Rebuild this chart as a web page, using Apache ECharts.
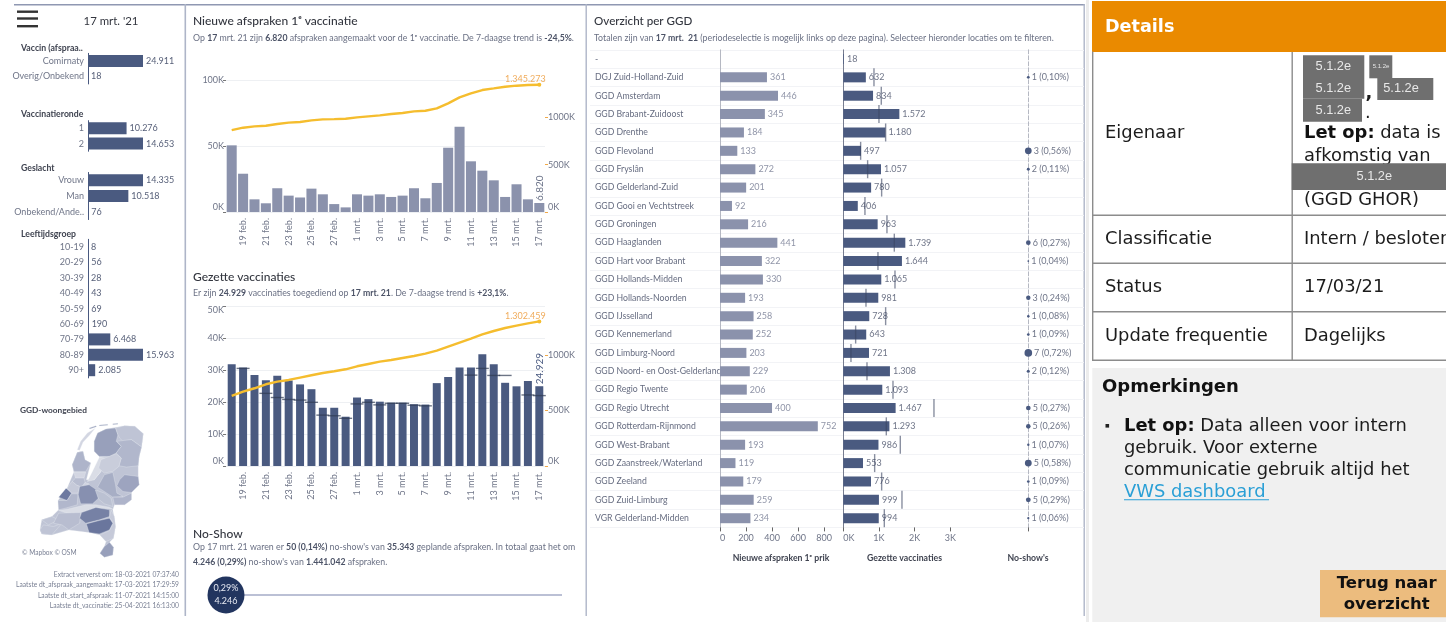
<!DOCTYPE html>
<html><head><meta charset="utf-8">
<style>html,body{margin:0;padding:0;background:#fff;overflow:hidden}
#a{position:absolute;left:0;top:0;width:1086px;height:622px;filter:blur(.45px)}
#b{position:absolute;left:1086px;top:0;width:360px;height:622px;filter:blur(.25px)}</style>
<script src="https://cdn.jsdelivr.net/npm/echarts@6/dist/echarts.min.js"></script>
</head><body><div id="a"></div><div id="b"></div>
<script>
const vaccinCats=['Comirnaty','Overig/Onbekend'];
const vaccinVals=[24911,18];
const rondeCats=['1','2'];
const rondeVals=[10276,14653];
const geslachtCats=['Vrouw','Man','Onbekend/Ande..'];
const geslachtVals=[14335,10518,76];
const leeftijdCats=['10-19','20-29','30-39','40-49','50-59','60-69','70-79','80-89','90+'];
const leeftijdVals=[8,56,28,43,69,190,6468,15963,2085];

const dates=['18 feb.','19 feb.','20 feb.','21 feb.','22 feb.','23 feb.','24 feb.','25 feb.','26 feb.','27 feb.','28 feb.','1 mrt.','2 mrt.','3 mrt.','4 mrt.','5 mrt.','6 mrt.','7 mrt.','8 mrt.','9 mrt.','10 mrt.','11 mrt.','12 mrt.','13 mrt.','14 mrt.','15 mrt.','16 mrt.','17 mrt.'];
const newAppointments=[50500,29000,9600,6600,18000,12400,11000,17700,13400,6000,3500,13400,12400,13400,11400,12400,18000,10400,22000,48700,64600,38400,31300,24000,11400,21000,9600,6820];
const cumAppointments=[866000,891000,905000,912000,930000,944000,951000,968000,979000,982000,986000,1000000,1011000,1021000,1035000,1046000,1063000,1070000,1095000,1148000,1211000,1254000,1289000,1306000,1324000,1335000,1342000,1345273];
const vaccinations=[31800,30800,28400,26800,28200,26700,25500,24000,18200,18200,15400,21400,20900,20100,19800,19800,19300,19200,25900,27800,30800,30800,34900,31800,26000,24900,26600,24929];
const vaccinationsRef=[null,30500,null,22700,21400,20800,20600,19900,15900,15700,14900,19400,19900,19100,19600,19600,19000,18800,null,null,null,28400,30500,28300,28300,null,22200,22000];
const cumVaccinations=[631000,670000,700000,736000,760000,775000,796000,817000,838000,853000,871000,898000,919000,940000,955000,973000,991000,1012000,1039000,1075000,1111000,1147000,1186000,1216000,1243000,1264000,1285000,1302459];

const ggdNames=['-','DGJ Zuid-Holland-Zuid','GGD Amsterdam','GGD Brabant-Zuidoost','GGD Drenthe','GGD Flevoland','GGD Fryslân','GGD Gelderland-Zuid','GGD Gooi en Vechtstreek','GGD Groningen','GGD Haaglanden','GGD Hart voor Brabant','GGD Hollands-Midden','GGD Hollands-Noorden','GGD IJsselland','GGD Kennemerland','GGD Limburg-Noord','GGD Noord- en Oost-Gelderland','GGD Regio Twente','GGD Regio Utrecht','GGD Rotterdam-Rijnmond','GGD West-Brabant','GGD Zaanstreek/Waterland','GGD Zeeland','GGD Zuid-Limburg','VGR Gelderland-Midden'];
const ggdAppointments=[null,361,446,345,184,133,272,201,92,216,441,322,330,193,258,252,203,229,206,400,752,193,119,179,259,234];
const ggdVaccinations=[18,632,834,1572,1180,497,1057,780,406,963,1739,1644,1065,981,728,643,721,1308,1093,1467,1293,986,553,776,999,994];
const ggdVaccinationsRef=[null,860,1065,1000,1187,486,682,1075,607,1224,1430,972,1449,636,1187,346,215,664,1393,2542,1206,1598,879,1075,1645,1150];
const ggdNoShow=[null,1,null,null,null,3,2,null,null,null,6,1,null,3,1,1,7,2,null,5,5,1,5,1,5,1];
const ggdNoShowPct=[null,0.10,null,null,null,0.56,0.11,null,null,null,0.27,0.04,null,0.24,0.08,0.09,0.72,0.12,null,0.27,0.26,0.07,0.58,0.09,0.29,0.06];

const noShowPct=0.29, noShowCount=4246;

const regionNames=['Land','Fryslân','Groningen','Drenthe','Noord-Holland','Zaanstreek','Amsterdam','Flevoland','Gooi','Hollands-Midden','Haaglanden','Rotterdam','Utrecht','IJsselland','Noord-Oost-Gelderland','Twente','Midden','Zuid','Achterhoek','Zeeland','West-Brabant','Hart voor Brabant','Brabant-Zuidoost','Limburg-Noord','Zuid-Limburg','Waddenkust'];
const regionShade=[22,45,22,30,32,10,26,6,12,18,70,30,55,16,36,42,24,6,32,22,26,65,72,18,45,10];
const regionRings=[
 [[[255,95],[265,70],[290,58],[345,48],[375,50],[400,72],[395,112],[388,140],[385,168],[385,200],[388,225],[365,248],[365,270],[345,285],[315,285],[310,300],[318,350],[312,385],[300,397],[312,412],[310,435],[285,442],[272,430],[285,410],[290,395],[272,375],[240,368],[180,360],[130,375],[100,372],[95,360],[100,330],[130,320],[150,300],[148,272],[175,235],[195,187],[190,165],[205,128],[222,125],[228,150],[245,160],[232,210],[255,210],[275,185],[270,143],[300,140],[270,140],[255,125]]],
 [[[255,95],[265,70],[290,58],[318,55],[325,75],[320,95],[335,110],[320,130],[300,140],[270,140],[255,125]],[[240,55],[260,48],[262,51],[242,58]],[[270,46],[295,44],[295,47],[270,49]],[[310,42],[325,41],[325,44],[310,45]]],
 [[[318,55],[345,48],[375,50],[400,72],[395,112],[365,90],[340,95],[330,85],[325,75]]],
 [[[322,95],[345,92],[365,90],[395,112],[388,140],[385,168],[350,172],[328,168],[335,145],[320,130],[335,110]]],
 [[[205,128],[222,125],[228,150],[245,160],[230,185],[195,185],[190,165]]],
 [[[195,187],[230,187],[225,205],[200,205]]],
 [[[200,205],[225,205],[228,218],[218,232],[203,226],[190,215]]],
 [[[270,143],[295,145],[275,185],[255,210],[235,215],[250,185]]],
 [[[228,218],[240,222],[235,238],[218,235]]],
 [[[175,235],[190,215],[203,226],[212,230],[207,250],[188,250]]],
 [[[150,262],[172,235],[188,250],[175,272]]],
 [[[148,272],[175,272],[188,252],[207,252],[205,285],[170,295],[150,300]]],
 [[[212,230],[240,225],[262,240],[268,265],[250,282],[215,282],[208,255]]],
 [[[275,150],[320,132],[335,145],[328,170],[310,185],[285,190],[268,175]]],
 [[[265,232],[285,195],[310,188],[318,225],[322,250],[340,260],[310,262],[285,245]]],
 [[[330,210],[345,195],[385,200],[388,225],[365,248],[340,245],[322,228]]],
 [[[258,240],[285,250],[305,265],[310,290],[285,282],[268,268]]],
 [[[150,302],[175,298],[230,285],[260,285],[300,292],[310,298],[285,295],[240,300],[215,308],[190,315]]],
 [[[310,262],[340,262],[365,250],[365,270],[345,285],[315,285]]],
 [[[95,360],[105,345],[135,350],[160,340],[130,375],[100,372]],[[100,330],[130,320],[150,330],[120,345]]],
 [[[150,310],[215,308],[212,340],[180,360],[160,345],[135,340]]],
 [[[218,308],[260,293],[300,300],[300,320],[270,330],[230,340],[212,325]]],
 [[[232,342],[270,332],[300,325],[310,340],[300,360],[270,372],[240,368]]],
 [[[305,300],[315,320],[318,350],[312,385],[290,395],[272,375],[300,362],[312,340],[300,322]]],
 [[[285,410],[300,397],[312,412],[310,435],[285,442],[272,430]]],
 [[[205,120],[215,95],[235,70],[258,56],[240,78],[222,98],[212,122]]]
];

const DASH='Lato, sans-serif';
const VERD='"DejaVu Sans", sans-serif';
const LF=9;
const BAR_DARK='#4a5a80', BAR_LIGHT='#8b92ac', GREY='#6f7588', ORANGE='#f5bd2e';
const fmt=n=>String(n).replace(/\B(?=(\d{3})+(?!\d))/g,'.');
const kFmt=v=>(v/1000)+'K';

const grids=[],xAxes=[],yAxes=[],series=[];
function addGrid(g,x,y){grids.push(g);const i=grids.length-1;xAxes.push(Object.assign({gridIndex:i},x));yAxes.push(Object.assign({gridIndex:i},y));return {x:xAxes.length-1,y:yAxes.length-1};}

function sideBars(cats,vals,centerFirst,pitch){
  const i=addGrid({left:88,top:centerFirst-pitch/2,width:55,height:pitch*cats.length},
   {type:'value',min:0,max:Math.max(...vals),show:false},
   {type:'category',inverse:true,data:cats,axisTick:{show:false},axisLine:{lineStyle:{color:BAR_DARK,width:1}},
    axisLabel:{color:GREY,fontSize:LF,fontFamily:DASH,margin:4,interval:0}});
  series.push({type:'bar',xAxisIndex:i.x,yAxisIndex:i.y,data:vals,barWidth:12,itemStyle:{color:BAR_DARK},silent:true,
    label:{show:true,position:'right',distance:3,color:'#565f78',fontSize:LF,fontFamily:DASH,formatter:p=>fmt(p.value)}});
}
sideBars(vaccinCats,vaccinVals,61,15.3);
sideBars(rondeCats,rondeVals,128.3,15.3);
sideBars(geslachtCats,geslachtVals,180.3,15.7);
sideBars(leeftijdCats,leeftijdVals,247,15.4);

function combo(top,height,leftMax,leftInt,rightMax,bars,barCol,gap,line,endText,lastText,lastCol,isTopAligned){
  const lv=[];for(let v=0;v<=rightMax;v+=500000)lv.push(v);
  const i=grids.length;
  grids.push({left:226,top:top,width:319,height:height});
  xAxes.push({gridIndex:i,type:'category',data:dates,axisLine:{show:false},axisTick:{show:false},
    axisLabel:{rotate:90,interval:k=>k%2===1,color:GREY,fontSize:LF,fontFamily:DASH,margin:6,hideOverlap:false}});
  const leftLabel={color:GREY,fontSize:LF,fontFamily:DASH,margin:2,formatter:kFmt,verticalAlignMinLabel:'bottom'};
  if(isTopAligned)leftLabel.verticalAlignMaxLabel='top';
  yAxes.push({gridIndex:i,type:'value',min:0,max:leftMax,interval:leftInt,
    axisLine:{show:false},axisTick:{show:true,length:3,lineStyle:{color:'#777'}},
    splitLine:{show:true,lineStyle:{color:'#eef0f3',width:1}},
    axisLabel:leftLabel});
  yAxes.push({gridIndex:i,type:'value',position:'right',min:0,max:rightMax,
    axisLine:{show:false},splitLine:{show:false},
    axisTick:{show:true,length:3,customValues:lv,lineStyle:{color:'#f0a94a'}},
    axisLabel:{customValues:lv,color:GREY,fontSize:LF,fontFamily:DASH,margin:3,formatter:kFmt,verticalAlignMinLabel:'bottom'}});
  const yL=yAxes.length-2,yR=yAxes.length-1,xI=xAxes.length-1;
  series.push({type:'bar',xAxisIndex:xI,yAxisIndex:yL,barCategoryGap:gap,itemStyle:{color:barCol},silent:true,
    data:bars.map((v,k)=>k===bars.length-1?{value:v,label:{show:true,position:'top',rotate:90,align:'left',verticalAlign:'middle',distance:2,formatter:lastText,color:lastCol,fontSize:10,fontFamily:DASH}}:v)});
  series.push({type:'line',xAxisIndex:xI,yAxisIndex:yR,showSymbol:true,showAllSymbol:true,symbol:'circle',symbolSize:0,lineStyle:{color:ORANGE,width:2.4},itemStyle:{color:ORANGE},z:5,silent:true,
    data:line.map((v,k)=>k===line.length-1?{value:v,symbolSize:4,label:{show:true,position:'top',distance:0,offset:[-14,1],color:'#f0ac5c',fontSize:LF,fontFamily:DASH,formatter:endText}}:v)});
  return {xI,yL};
}
combo(80,132,100000,50000,1395000,newAppointments,BAR_LIGHT,'12%',cumAppointments,'1.345.273','6.820','#6a7288',false);
const c2=combo(306,160,50000,10000,1441000,vaccinations,BAR_DARK,'30%',cumVaccinations,'1.302.459','24.929','#4a5a80',true);
series.push({type:'scatter',xAxisIndex:c2.xI,yAxisIndex:c2.yL,symbol:'rect',symbolSize:[13,1.4],itemStyle:{color:'#2f3a52',opacity:.7},z:6,silent:true,data:vaccinationsRef});

// no-show strip
{
 const i=addGrid({left:225,top:585,width:337,height:20},{type:'value',min:0,max:100,show:false},{type:'category',data:['No-show'],show:false});
 series.push({type:'bar',xAxisIndex:i.x,yAxisIndex:i.y,data:[100],barWidth:1.6,itemStyle:{color:'#a4abc7'},silent:true});
 series.push({type:'scatter',xAxisIndex:i.x,yAxisIndex:i.y,symbolSize:37,itemStyle:{color:'#22355f',opacity:1},z:5,silent:true,data:[[noShowPct,0]],
  label:{show:true,position:'inside',color:'#e6e9f2',fontSize:LF,fontFamily:DASH,lineHeight:13,formatter:'0,29%\n'+fmt(noShowCount)}});
}

// GGD table
const rowTop=49.8,rowH=477.6;
const catY=(extra)=>Object.assign({type:'category',inverse:true,data:ggdNames,axisTick:{show:false},axisLabel:{show:false}},extra);
{
 addGrid({left:590,top:rowTop,width:494,height:rowH},{type:'value',show:false},
   catY({axisLine:{show:false},splitLine:{show:true,interval:0,lineStyle:{color:'#f2f3f6',width:1}}}));
 const t={show:true,length:4,lineStyle:{color:'#666'}};
 const lab={color:GREY,fontSize:LF,fontFamily:DASH,margin:6};
 const a=addGrid({left:720,top:rowTop,width:123.3,height:rowH},
   {type:'value',min:0,max:948,axisLine:{show:false},splitLine:{show:false},axisTick:Object.assign({customValues:[0,200,400,600,800]},t),axisLabel:Object.assign({customValues:[0,200,400,600,800],alignMinLabel:'left'},lab)},
   catY({axisLine:{show:true,lineStyle:{color:'#b5b8c2'}},axisLabel:{show:true,align:'left',margin:125,interval:0,color:'#666c80',fontSize:8.7,fontFamily:DASH}}));
 series.push({type:'bar',xAxisIndex:a.x,yAxisIndex:a.y,data:ggdAppointments,barWidth:10,itemStyle:{color:BAR_LIGHT},silent:true,
   label:{show:true,position:'right',distance:3,color:'#9095a8',fontSize:LF,fontFamily:DASH}});
 const b=addGrid({left:843.3,top:rowTop,width:185,height:rowH},
   {type:'value',min:0,max:5187,axisLine:{show:false},splitLine:{show:false},axisTick:Object.assign({customValues:[0,1000,2000,3000]},t),axisLabel:Object.assign({customValues:[0,1000,2000,3000],alignMinLabel:'left',formatter:kFmt},lab)},
   catY({axisLine:{show:true,lineStyle:{color:'#777d90'}}}));
 series.push({type:'bar',xAxisIndex:b.x,yAxisIndex:b.y,data:ggdVaccinations,barWidth:10,itemStyle:{color:BAR_DARK},silent:true,
   label:{show:true,position:'right',distance:3,color:'#6f7588',fontSize:LF,fontFamily:DASH,formatter:p=>fmt(p.value)}});
 series.push({type:'scatter',xAxisIndex:b.x,yAxisIndex:b.y,symbol:'rect',symbolSize:[1.4,18],itemStyle:{color:'#3b4560',opacity:.6},z:6,silent:true,
   data:ggdVaccinationsRef.map((v,k)=>v==null?[null,k]:[v,k])});
 const c=addGrid({left:1028.3,top:rowTop,width:55,height:rowH},
   {type:'value',min:0,max:1,axisLine:{show:false},splitLine:{show:false},axisTick:Object.assign({customValues:[0]},t),axisLabel:{show:false}},
   catY({axisLine:{show:true,lineStyle:{color:'#b5b8c2',type:'dashed'}}}));
 series.push({type:'scatter',xAxisIndex:c.x,yAxisIndex:c.y,itemStyle:{color:BAR_DARK,opacity:1},silent:true,clip:false,
   data:ggdNoShow.map((n,k)=>n==null?[null,k,null,null]:[0,k,n,ggdNoShowPct[k]]),
   symbolSize:d=>d[3]?9*Math.sqrt(d[3]):0,
   label:{show:true,position:'right',distance:2,color:'#6f7588',fontSize:LF,fontFamily:DASH,
     formatter:p=>p.data[2]==null?'':p.data[2]+' ('+p.data[3].toFixed(2).replace('.',',')+'%)'}});
}

// map
const geo={type:'FeatureCollection',features:regionNames.map((n,i)=>({type:'Feature',properties:{name:n},
  geometry:{type:'MultiPolygon',coordinates:regionRings[i].map(r=>[r.map(p=>[p[0],-p[1]])])}}))};
echarts.registerMap('ggd',geo);
series.push({type:'map',map:'ggd',left:40,top:423.3,width:103.3,height:134,aspectScale:1,roam:false,silent:true,
  label:{show:false},itemStyle:{borderColor:'#eef0f4',borderWidth:.3},
  data:regionNames.map((n,i)=>({name:n,value:regionShade[i]}))});

const T=(x,y,text,o)=>({type:'text',silent:true,style:Object.assign({x,y,text,fill:'#7a8094',fontSize:LF,fontFamily:DASH,verticalAlign:'middle',align:'left'},o||{})});
const R=(x,y,w,h,fill)=>({type:'rect',silent:true,shape:{x,y,width:w,height:h},style:{fill}});
const b={fontWeight:'bold',fill:'#4c5367',fontFamily:DASH,fontSize:8.7,verticalAlign:'middle'};
const r={fill:'#6a7084',fontFamily:DASH,fontSize:8.8,verticalAlign:'middle'};
const rich={b,r};
const sub=(x,y,text)=>T(x,y,text,{rich});
const TITLE={fill:'#33363f',fontSize:12,fontFamily:DASH,fontWeight:500};
const SEC={fill:'#3f4350',fontSize:8.7,fontWeight:'bold'};
const FOOT={align:'right',fontSize:6.7};
const LINE='#aeb5c8';
const gA=[
 R(14,4,1071,1.4,'#8f98b2'),R(184.5,4,1.6,612,LINE),R(585.5,4,1.4,612,LINE),R(1083.5,4,1.4,612,LINE),
 R(17,10.5,21,2.4,'#333'),R(17,17.3,21,2.4,'#333'),R(17,25,21,2.4,'#333'),
 T(111,21,"17 mrt. '21",{fill:'#33363f',fontSize:11.4,align:'center'}),
 T(21,48,'Vaccin (afspraa..',SEC),T(21,114,'Vaccinatieronde',SEC),T(21,168,'Geslacht',SEC),T(21,234,'Leeftijdsgroep',SEC),
 T(20,410,'GGD-woongebied',Object.assign({},SEC,{fontSize:8.3})),
 T(22,553,'© Mapbox © OSM',{fontSize:6.6}),
 T(179,575,'Extract ververst om: 18-03-2021 07:37:40',FOOT),
 T(179,585.3,'Laatste dt_afspraak_aangemaakt: 17-03-2021 17:29:59',FOOT),
 T(179,595.6,'Laatste dt_start_afspraak: 11-07-2021 14:15:00',FOOT),
 T(179,605.8,'Laatste dt_vaccinatie: 25-04-2021 16:13:00',FOOT),
 T(193,21,'Nieuwe afspraken 1ᵉ vaccinatie',TITLE),
 sub(193,38,'{r|Op }{b|17}{r| mrt. 21 zijn }{b|6.820}{r| afspraken aangemaakt voor de 1ᵉ vaccinatie. De 7-daagse trend is }{b|-24,5%}{r|.}'),
 T(193,277,'Gezette vaccinaties',TITLE),
 sub(193,293.5,'{r|Er zijn }{b|24.929}{r| vaccinaties toegediend op }{b|17 mrt. 21}{r|. De 7-daagse trend is }{b|+23,1%}{r|.}'),
 T(193,534,'No-Show',TITLE),
 sub(193,547,'{r|Op 17 mrt. 21 waren er }{b|50 (0,14%)}{r| no-show\'s van }{b|35.343}{r| geplande afspraken. In totaal gaat het om}'),
 sub(193,562,'{b|4.246 (0,29%)}{r| no-show\'s van }{b|1.441.042}{r| afspraken.}'),
 T(594,21,'Overzicht per GGD',Object.assign({},TITLE,{fontSize:11.6})),
 sub(594,38,'{r|Totalen zijn van }{b|17 mrt.  21}{r| (periodeselectie is mogelijk links op deze pagina). Selecteer hieronder locaties om te filteren.}'),
 T(781,558.5,'Nieuwe afspraken 1ᵉ prik',Object.assign({},SEC,{align:'center'})),
 T(904.5,558.5,'Gezette vaccinaties',Object.assign({},SEC,{align:'center'})),
 T(1028,558.5,"No-show's",Object.assign({},SEC,{align:'center'})),
];

const chartA=echarts.init(document.getElementById('a'));
chartA.setOption({animation:false,backgroundColor:'#fff',grid:grids,xAxis:xAxes,yAxis:yAxes,series,
  visualMap:{show:false,min:0,max:75,seriesIndex:series.length-1,inRange:{color:['#e4e6ed','#65719a']}},
  graphic:{elements:gA}});

// details panel
const OX=1086;
const FS=17.9;
const V=(x,y,text,o)=>T(x-OX,y+1,text,Object.assign({fill:'#1c1c1c',fontSize:FS,fontFamily:VERD},o||{}));
const BX=(x,y,w,h,f)=>R(x-OX,y,w,h,f);
const A5=(x,y,s)=>T(x-OX,y,'5.1.2e',{fill:'#e8e8e8',fontSize:s||12.8,fontFamily:'"Liberation Sans",Arial,sans-serif',align:'center'});
const GR='#6f6f6f', BD='#8c8c8c';
const richV={b:{fontWeight:'bold',fill:'#111',fontFamily:VERD,fontSize:FS,verticalAlign:'middle'},n:{fill:'#1c1c1c',fontFamily:VERD,fontSize:FS,verticalAlign:'middle'}};
const gB=[
 BX(1086,0,3,622,'#ececec'),
 BX(1092,1,354,51,'#ea8a00'),
 V(1105,26,'Details',{fill:'#fff',fontWeight:'bold',fontSize:17.6}),
 BX(1092,51.5,1.4,309,BD),BX(1291.5,52,1.4,308,BD),
 BX(1092,214.5,354,1.6,BD),BX(1092,262.5,354,1.6,BD),BX(1092,311,354,1.6,BD),BX(1092,359.5,354,1.6,BD),
 V(1105,132,'Eigenaar'),V(1105,238,'Classificatie'),V(1105,286.7,'Status'),V(1105,335.7,'Update frequentie'),
 BX(1303,55.3,61.3,43.4,GR),BX(1303,98.7,59,23,GR),BX(1369.3,55.3,23,23,GR),BX(1377.3,78,56,22,GR),
 V(1365.5,92,',',{fontWeight:'bold'}),V(1365,112,'.'),
 T(1304-OX,133,'{b|Let op:}{n| data is}',{rich:richV}),
 V(1304,155,'afkomstig van'),V(1304,199,'(GGD GHOR)'),
 BX(1291.7,163.3,154.3,26.7,GR),
 A5(1333.3,66.7),A5(1333.3,88.7),A5(1333.3,110.7),A5(1401,88.3),A5(1374.3,176.7),A5(1381,66,6),
 V(1304,238,'Intern / besloten'),V(1304,286.7,'17/03/21'),V(1304,335.7,'Dagelijks'),
 BX(1092.3,368,354,254,'#f0f0f0'),
 V(1102,386,'Opmerkingen',{fontWeight:'bold',fill:'#111',fontSize:18}),
 BX(1105.5,424,3.6,3.6,'#222'),
 T(1124-OX,426.7,'{b|Let op:}{n| Data alleen voor intern}',{rich:richV}),
 V(1124,447.3,'gebruik. Voor externe'),V(1124,469.3,'communicatie gebruik altijd het'),
 V(1124,491,'VWS dashboard',{fill:'#2a9fd6'}),BX(1124,499.3,145,1,'#2a9fd6'),
 BX(1320,570,126,47.3,'#ecbc7e'),
 V(1386.7,582.7,'Terug naar',{fontWeight:'bold',fill:'#111',align:'center',fontSize:16.5}),
 V(1386.7,603.3,'overzicht',{fontWeight:'bold',fill:'#111',align:'center',fontSize:16.5}),
];
const chartB=echarts.init(document.getElementById('b'));
chartB.setOption({animation:false,backgroundColor:'#fff',graphic:{elements:gB}});
</script></body></html>
